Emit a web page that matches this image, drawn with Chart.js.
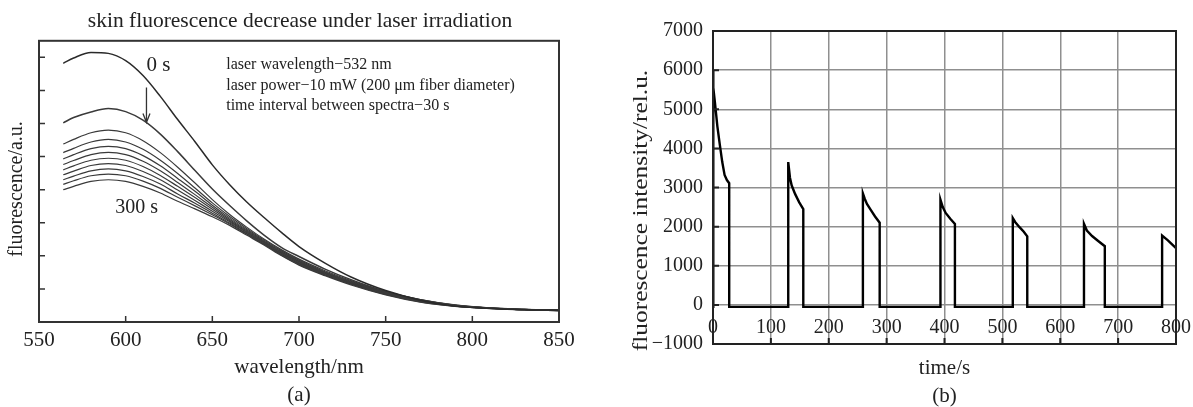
<!DOCTYPE html>
<html><head><meta charset="utf-8">
<script src="https://cdn.jsdelivr.net/npm/chart.js@4.4.0/dist/chart.umd.min.js"></script>
<style>
html,body{margin:0;padding:0;background:#fff;}
body{width:1193px;height:407px;position:relative;overflow:hidden;}
#wa{position:absolute;left:0;top:0;width:600px;height:407px;}
#wb{position:absolute;left:600px;top:0;width:602px;height:407px;}
</style></head><body>
<div id="wa"><canvas id="ca"></canvas></div>
<div id="wb"><canvas id="cb"></canvas></div>
<script>
// ---------- (a) spectra ----------
const wavelengths = [564, 570, 580, 590, 600, 610, 620, 630, 640, 650, 660, 670, 680, 690, 700, 715, 730, 750, 770, 790, 810, 830, 850];
const spectrumLabels = ['0 s','30 s','60 s','90 s','120 s','150 s','180 s','210 s','240 s','270 s','300 s'];
const sp0   = [7.82, 7.98, 8.15, 8.12, 7.90, 7.45, 6.82, 6.12, 5.45, 4.75, 4.15, 3.62, 3.15, 2.70, 2.28, 1.78, 1.36, 0.95, 0.66, 0.48, 0.41, 0.37, 0.36];
const sp30  = [6.02, 6.18, 6.35, 6.45, 6.36, 6.10, 5.68, 5.15, 4.58, 4.02, 3.52, 3.05, 2.62, 2.25, 1.98, 1.60, 1.28, 0.92, 0.67, 0.50, 0.42, 0.38, 0.35];
const sp60  = [5.38, 5.52, 5.72, 5.80, 5.72, 5.48, 5.12, 4.68, 4.20, 3.70, 3.25, 2.86, 2.50, 2.18, 1.90, 1.55, 1.25, 0.92, 0.68, 0.52, 0.43, 0.38, 0.35];
const sp90  = [5.12, 5.25, 5.44, 5.52, 5.44, 5.22, 4.89, 4.49, 4.05, 3.60, 3.19, 2.82, 2.47, 2.15, 1.87, 1.52, 1.23, 0.90, 0.67, 0.51, 0.43, 0.38, 0.35];
const sp120 = [4.93, 5.06, 5.24, 5.31, 5.24, 5.03, 4.72, 4.34, 3.95, 3.53, 3.14, 2.78, 2.44, 2.12, 1.84, 1.50, 1.21, 0.89, 0.65, 0.50, 0.42, 0.38, 0.35];
const sp150 = [4.76, 4.88, 5.06, 5.13, 5.06, 4.86, 4.57, 4.22, 3.85, 3.47, 3.10, 2.75, 2.42, 2.10, 1.82, 1.48, 1.19, 0.88, 0.64, 0.50, 0.42, 0.38, 0.35];
const sp180 = [4.60, 4.72, 4.89, 4.95, 4.89, 4.70, 4.43, 4.10, 3.76, 3.41, 3.06, 2.72, 2.40, 2.08, 1.80, 1.47, 1.18, 0.86, 0.64, 0.49, 0.42, 0.37, 0.35];
const sp210 = [4.45, 4.56, 4.73, 4.79, 4.73, 4.55, 4.30, 3.99, 3.67, 3.35, 3.03, 2.70, 2.38, 2.06, 1.78, 1.45, 1.16, 0.85, 0.63, 0.49, 0.42, 0.37, 0.35];
const sp240 = [4.30, 4.41, 4.57, 4.63, 4.57, 4.40, 4.17, 3.87, 3.59, 3.29, 2.99, 2.67, 2.36, 2.04, 1.76, 1.43, 1.15, 0.84, 0.62, 0.48, 0.41, 0.37, 0.34];
const sp270 = [4.16, 4.27, 4.42, 4.47, 4.42, 4.26, 4.04, 3.77, 3.51, 3.24, 2.96, 2.65, 2.34, 2.02, 1.74, 1.42, 1.14, 0.83, 0.61, 0.48, 0.41, 0.37, 0.34];
const sp300 = [4.00, 4.10, 4.25, 4.30, 4.25, 4.10, 3.90, 3.65, 3.42, 3.18, 2.92, 2.62, 2.32, 2.00, 1.72, 1.40, 1.12, 0.82, 0.60, 0.47, 0.41, 0.37, 0.34];
const spectra = [sp0, sp30, sp60, sp90, sp120, sp150, sp180, sp210, sp240, sp270, sp300];
const xTicksA = [550, 600, 650, 700, 750, 800, 850];
const noteLines = ['laser wavelength\u2212532 nm', 'laser power\u221210 mW (200 \u03bcm fiber diameter)', 'time interval between spectra\u221230 s'];

// ---------- (b) time course ----------
const timeS = [0, 0, 1, 3.5, 7.5, 12, 16, 20, 24, 28, 28,
  130, 130, 133, 136, 142, 149, 156, 156,
  259, 259, 262, 266, 272, 280, 288, 288,
  393, 393, 397, 402, 410, 418, 418,
  518, 518, 522, 530, 537, 543, 543,
  641, 641, 646, 655, 665, 677, 677,
  776, 776, 786, 795, 800];
const intensity = [-50, 6000, 5550, 5150, 4570, 4070, 3650, 3320, 3190, 3110, -50,
  -50, 3650, 3250, 3050, 2830, 2620, 2450, -50,
  -50, 2850, 2720, 2580, 2440, 2260, 2100, -50,
  -50, 2690, 2500, 2350, 2200, 2070, -50,
  -50, 2220, 2120, 1980, 1870, 1750, -50,
  -50, 2070, 1900, 1760, 1640, 1500, -50,
  -50, 1770, 1650, 1520, 1450];

const FONT = "'Liberation Serif', 'Times New Roman', serif";
const minus = v => (v < 0 ? '\u2212' + Math.abs(v) : String(v));

const framePlugin = {
  id: 'frame',
  afterDraw(chart, args, opts) {
    const {ctx, chartArea: a} = chart;
    const xs = chart.scales.x, ys = chart.scales.y;
    ctx.save();
    ctx.strokeStyle = opts.color; ctx.lineWidth = opts.width;
    ctx.strokeRect(a.left, a.top, a.right - a.left, a.bottom - a.top);
    ctx.lineWidth = opts.tickWidth;
    ctx.beginPath();
    xs.ticks.forEach(t => {
      const px = xs.getPixelForValue(t.value);
      if (px > a.left + 2 && px < a.right - 2) { ctx.moveTo(px, a.bottom); ctx.lineTo(px, a.bottom - opts.tick); }
    });
    ys.ticks.forEach(t => {
      if (!Number.isInteger(t.value)) return;
      const py = ys.getPixelForValue(t.value);
      if (py > a.top + 2 && py < a.bottom - 2) { ctx.moveTo(a.left, py); ctx.lineTo(a.left + opts.tick, py); }
    });
    ctx.stroke();
    if (opts.yTitle) {
      ctx.translate(a.left - opts.yTitleDx, (a.top + a.bottom) / 2 + opts.yTitleDy);
      ctx.rotate(-Math.PI / 2);
      ctx.scale(opts.yTitleStretch, 1);
      ctx.font = opts.yTitleSize + 'px ' + FONT;
      ctx.fillStyle = '#222'; ctx.textAlign = 'center'; ctx.textBaseline = 'middle';
      ctx.fillText(opts.yTitle, 0, 0);
    }
    ctx.restore();
  }
};

const annotPlugin = {
  id: 'annot',
  afterDatasetsDraw(chart) {
    const {ctx} = chart; const xs = chart.scales.x, ys = chart.scales.y;
    ctx.save();
    ctx.fillStyle = '#222'; ctx.textBaseline = 'middle'; ctx.textAlign = 'left';
    ctx.font = '21px ' + FONT;
    ctx.fillText('0 s', xs.getPixelForValue(612), ys.getPixelForValue(7.76));
    ctx.font = '20px ' + FONT;
    ctx.fillText('300 s', xs.getPixelForValue(594), ys.getPixelForValue(3.44));
    ctx.font = '16px ' + FONT;
    noteLines.forEach((t, i) => ctx.fillText(t, xs.getPixelForValue(658), ys.getPixelForValue(7.76 - i * 0.61)));
    const ax = xs.getPixelForValue(612), ay1 = ys.getPixelForValue(7.09), ay2 = ys.getPixelForValue(6.03);
    ctx.strokeStyle = '#333'; ctx.lineWidth = 1.3;
    ctx.beginPath();
    ctx.moveTo(ax, ay1); ctx.lineTo(ax, ay2);
    ctx.moveTo(ax - 3.5, ay2 - 9); ctx.lineTo(ax, ay2); ctx.lineTo(ax + 3.5, ay2 - 9);
    ctx.stroke();
    ctx.restore();
  }
};

Chart.defaults.font.family = FONT;
Chart.defaults.color = '#222';

new Chart(document.getElementById('ca'), {
  type: 'line',
  data: {
    datasets: spectra.map((s, i) => ({
      label: spectrumLabels[i],
      data: s.map((v, j) => ({x: wavelengths[j], y: v})),
      borderColor: i === 0 ? '#2a2a2a' : '#3a3a3a',
      borderWidth: i < 2 ? 1.5 : 1.2,
      pointRadius: 0,
      fill: false,
      cubicInterpolationMode: 'monotone'
    }))
  },
  options: {
    responsive: true, maintainAspectRatio: false, animation: false, devicePixelRatio: 1,
    layout: {padding: {left: 0, right: 0, top: 0, bottom: 0}},
    plugins: {
      legend: {display: false}, tooltip: {enabled: false},
      title: {display: true, text: 'skin fluorescence decrease under laser irradiation',
        font: {size: 21.5, family: FONT, weight: 'normal', lineHeight: 1.2}, color: '#222',
        padding: {top: 8, bottom: 7}},
      frame: {color: '#333', width: 2, tick: 6, tickWidth: 1.5,
        yTitle: 'fluorescence/a.u.', yTitleDx: 22, yTitleDy: 7.5, yTitleStretch: 1, yTitleSize: 20}
    },
    scales: {
      x: {
        type: 'linear', min: 550, max: 850,
        afterBuildTicks: s => { s.ticks = xTicksA.map(v => ({value: v})); },
        afterFit: s => { s.height = 85; },
        grid: {display: false, drawTicks: false},
        border: {display: false},
        ticks: {font: {size: 21}, padding: 6, maxRotation: 0, callback: v => String(v)},
        title: {display: true, text: ['wavelength/nm', '(a)'], font: {size: 21, lineHeight: 1.33}, padding: {top: 0, bottom: -2}}
      },
      y: {
        type: 'linear', min: 0, max: 8.5,
        ticks: {display: false, stepSize: 1},
        afterFit: s => { s.width = 39; },
        grid: {display: false, drawTicks: false},
        border: {display: false}
      },
      yr: {
        type: 'linear', position: 'right', min: 0, max: 1,
        ticks: {display: false},
        afterFit: s => { s.width = 41; },
        grid: {display: false, drawTicks: false},
        border: {display: false}
      }
    }
  },
  plugins: [framePlugin, annotPlugin]
});

new Chart(document.getElementById('cb'), {
  type: 'line',
  data: {
    datasets: [{
      label: 'fluorescence intensity',
      data: timeS.map((t, i) => ({x: t, y: intensity[i]})),
      borderColor: '#000', borderWidth: 2.4, pointRadius: 0, fill: false, tension: 0
    }]
  },
  options: {
    responsive: true, maintainAspectRatio: false, animation: false, devicePixelRatio: 1,
    layout: {padding: {left: 0, right: 17, top: 31, bottom: 63}},
    plugins: {
      legend: {display: false}, tooltip: {enabled: false},
      frame: {color: '#222', width: 2, tick: 6, tickWidth: 2,
        yTitle: 'fluorescence intensity/rel.u.', yTitleDx: 71, yTitleDy: 23, yTitleStretch: 1.27, yTitleSize: 20}
    },
    scales: {
      x: {
        type: 'linear', min: 0, max: 800, position: {y: 0},
        ticks: {stepSize: 100, font: {size: 20}, padding: 11, maxRotation: 0, callback: v => minus(v)},
        afterFit: s => { s.height = 106; },
        grid: {color: '#8f8f8f', lineWidth: 1.5, drawTicks: false},
        border: {display: false},
        title: {display: true, text: ['time/s', '(b)'], font: {size: 21, lineHeight: 1.33}, padding: {top: 0, bottom: 0}}
      },
      y: {
        type: 'linear', min: -1000, max: 7000,
        ticks: {stepSize: 1000, font: {size: 20}, padding: 10, callback: v => minus(v)},
        afterFit: s => { s.width = 113; },
        grid: {color: '#8f8f8f', lineWidth: 1.5, drawTicks: false},
        border: {display: false}
      }
    }
  },
  plugins: [framePlugin]
});
</script>
</body></html>
